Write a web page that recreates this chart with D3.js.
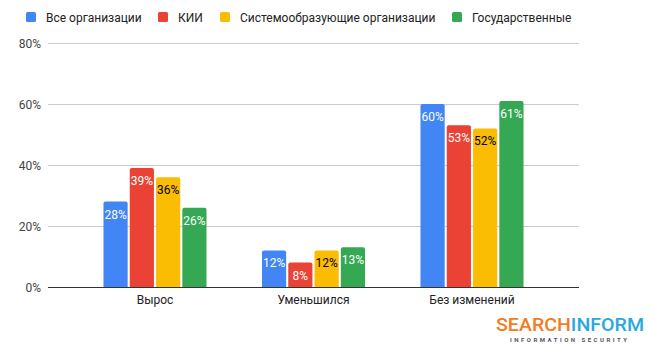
<!DOCTYPE html>
<html lang="ru">
<head>
<meta charset="utf-8">
<title>Chart</title>
<script src="https://cdn.jsdelivr.net/npm/d3@7"></script>
<style>
  body { margin: 0; background: #fff; }
  text { font-family: Roboto, Arial, sans-serif; }
</style>
</head>
<body>
<div id="chart"></div>
<script>
const categories = ["Вырос", "Уменьшился", "Без изменений"];
const seriesNames = ["Все организации", "КИИ", "Системообразующие организации", "Государственные"];
const seriesColors = ["#4285f4", "#ea4335", "#fbbc04", "#34a853"];
const labelColors = ["#fff", "#fff", "#000", "#fff"];
const allOrgs = [28, 12, 60];
const kii = [39, 8, 53];
const sysOrgs = [36, 12, 52];
const gov = [26, 13, 61];
const yTicks = [0, 20, 40, 60, 80];

const seriesValues = [allOrgs, kii, sysOrgs, gov];

const W = 654, H = 354;
const plotLeft = 48, plotRight = 579, plotTop = 43, plotBottom = 287;

const svg = d3.select("#chart").append("svg")
  .attr("width", W).attr("height", H);

const x = d3.scaleBand().domain(categories).range([plotLeft, plotRight]).padding(0.35);
const xInner = d3.scaleBand().domain(d3.range(seriesNames.length))
  .range([0, x.bandwidth()]).paddingInner(0.08);
const y = d3.scaleLinear().domain([0, 80]).range([plotBottom, plotTop]);

// gridlines
svg.append("g").selectAll("line").data(yTicks.filter(d => d > 0)).join("line")
  .attr("x1", plotLeft).attr("x2", plotRight)
  .attr("y1", d => y(d)).attr("y2", d => y(d))
  .attr("stroke", "#cccccc").attr("stroke-width", 1)
  .attr("shape-rendering", "crispEdges");

// y tick labels
svg.append("g").selectAll("text").data(yTicks).join("text")
  .attr("x", 41).attr("y", d => y(d) + 4.5)
  .attr("text-anchor", "end")
  .attr("font-size", 12).attr("fill", "#444")
  .text(d => d + "%");

// bars
const groups = svg.append("g").selectAll("g").data(categories).join("g")
  .attr("transform", d => `translate(${x(d)},0)`);

groups.each(function(cat, ci) {
  const g = d3.select(this);
  seriesValues.forEach((vals, si) => {
    const v = vals[ci];
    const bx = xInner(si), bw = xInner.bandwidth();
    g.append("path")
      .attr("d", () => {
        const r = 2, x0 = bx, x1 = bx + bw, y0 = y(v), y1 = y(0);
        return `M${x0},${y1}V${y0 + r}Q${x0},${y0} ${x0 + r},${y0}H${x1 - r}Q${x1},${y0} ${x1},${y0 + r}V${y1}Z`;
      })
      .attr("fill", seriesColors[si]);
    g.append("text")
      .attr("x", bx + bw / 2).attr("y", y(v) + 17)
      .attr("text-anchor", "middle")
      .attr("font-size", 12).attr("fill", labelColors[si])
      .text(v + "%");
  });
});

// baseline
svg.append("line")
  .attr("x1", plotLeft).attr("x2", plotRight)
  .attr("y1", plotBottom).attr("y2", plotBottom)
  .attr("stroke", "#333").attr("stroke-width", 1)
  .attr("shape-rendering", "crispEdges");

// x labels
svg.append("g").selectAll("text").data(categories).join("text")
  .attr("x", d => x(d) + x.bandwidth() / 2).attr("y", 304)
  .attr("text-anchor", "middle")
  .attr("font-size", 12).attr("fill", "#222")
  .text(d => d);

// legend
const legendX = [26, 158, 220, 452];
const legend = svg.append("g").selectAll("g").data(seriesNames).join("g")
  .attr("transform", (d, i) => `translate(${legendX[i]},12)`);
legend.append("rect").attr("width", 10).attr("height", 10).attr("rx", 1.5)
  .attr("fill", (d, i) => seriesColors[i]);
legend.append("text").attr("x", 20).attr("y", 9.5)
  .attr("font-size", 12).attr("fill", "#222")
  .text(d => d);

// logo
const logo = svg.append("g");
const lt = logo.append("text").attr("x", 496).attr("y", 331)
  .attr("font-size", 18.5).attr("font-weight", 500)
  .attr("textLength", 148).attr("lengthAdjust", "spacingAndGlyphs");
lt.append("tspan").attr("fill", "#f47b20").text("SEARCH");
lt.append("tspan").attr("fill", "#29a8e0").text("INFORM");
logo.append("text").attr("x", 510).attr("y", 341.5)
  .attr("font-size", 6).attr("font-weight", 700).attr("fill", "#555")
  .attr("textLength", 117).attr("lengthAdjust", "spacing")
  .text("INFORMATION SECURITY");
</script>
</body>
</html>
